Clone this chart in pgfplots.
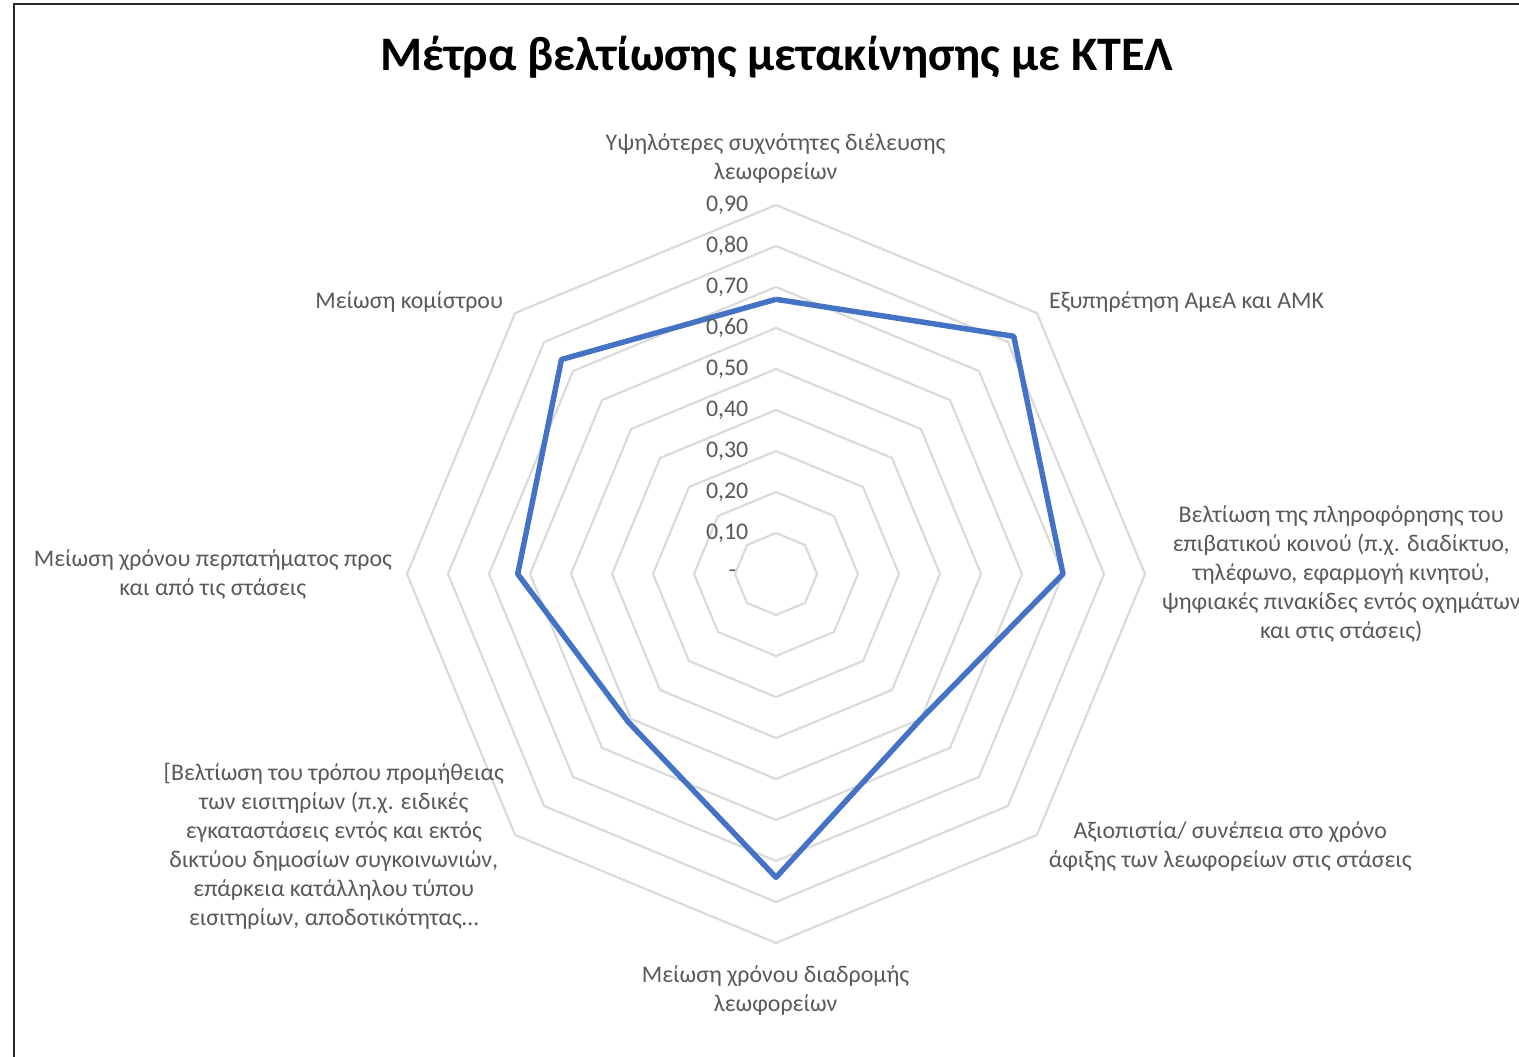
\documentclass[border=0pt]{standalone}
\usepackage{fontspec}
\setmainfont{Carlito}
\usepackage{pgfplots}
\pgfplotsset{compat=1.18}
\usepgfplotslibrary{polar}
\definecolor{xlblue}{HTML}{4472C4}
\definecolor{xlgrid}{HTML}{D9D9D9}
\definecolor{xltext}{HTML}{595959}

\begin{document}
\begin{tikzpicture}
\useasboundingbox (0,0) rectangle (15.19cm,10.56cm);
% chart frame (right and bottom edges fall outside the page)
\draw[black!85,line width=0.8pt] (0.14cm,-0.3cm) rectangle (15.5cm,10.52cm);

\begin{axis}[
  at={(7.76cm,4.82cm)}, anchor=center,
  x=4.1cm, y=4.1cm,
  xmin=-0.92, xmax=0.92, ymin=-0.92, ymax=0.92,
  hide axis, clip=false]
  % octagonal grid rings
  \pgfplotsinvokeforeach{0.1,0.2,0.3,0.4,0.5,0.6,0.7,0.8,0.9}{
    \addplot[xlgrid,line width=0.6pt,data cs=polar,forget plot]
      coordinates {(90,#1)(45,#1)(0,#1)(-45,#1)(-90,#1)(-135,#1)(180,#1)(135,#1)(90,#1)};
  }
  % series
  \addplot[xlblue,line width=1.55pt,line join=round,data cs=polar]
    coordinates {(90,0.67)(45,0.82)(0,0.70)(-45,0.50)(-90,0.74)(-135,0.51)(180,0.63)(135,0.74)(90,0.67)};
  % radial tick labels
  \pgfplotsinvokeforeach{1,2,3,4,5,6,7,8,9}{
    \node[anchor=east,inner sep=0pt,xshift=-0.27cm,text=xltext,font=\fontsize{6.8}{7.5}\selectfont]
      at (axis cs:0,0.#1) {0,#10};
  }
  \node[anchor=east,inner sep=0pt,xshift=-0.39cm,text=xltext,font=\fontsize{6.8}{7.5}\selectfont]
    at (axis cs:0,0) {-};
\end{axis}

\begin{scope}[x=0.01cm,y=0.01cm,text=xltext,
  lbl/.style={inner sep=0pt,align=center,font=\fontsize{6.8}{8.25}\selectfont}]
  \node[font=\fontsize{13.7}{16}\selectfont\bfseries,text=black,anchor=base]
    at (777,986) {Μέτρα βελτίωσης μετακίνησης με ΚΤΕΛ};
  \node[lbl] at (776,898) {Υψηλότερες συχνότητες διέλευσης\\λεωφορείων};
  \node[lbl,anchor=west] at (1049,754) {Εξυπηρέτηση ΑμεΑ και ΑΜΚ};
  \node[lbl] at (1342,482) {Βελτίωση της πληροφόρησης του\\επιβατικού κοινού (π.χ. διαδίκτυο,\\τηλέφωνο, εφαρμογή κινητού,\\ψηφιακές πινακίδες εντός οχημάτων\\και στις στάσεις)};
  \node[lbl] at (1231,210) {Αξιοπιστία/ συνέπεια στο χρόνο\\άφιξης των λεωφορείων στις στάσεις};
  \node[lbl] at (776,66) {Μείωση χρόνου διαδρομής\\λεωφορείων};
  \node[lbl] at (334,210) {[Βελτίωση του τρόπου προμήθειας\\των εισιτηρίων (π.χ. ειδικές\\εγκαταστάσεις εντός και εκτός\\δικτύου δημοσίων συγκοινωνιών,\\επάρκεια κατάλληλου τύπου\\εισιτηρίων, αποδοτικότητας…};
  \node[lbl] at (213,482) {Μείωση χρόνου περπατήματος προς\\και από τις στάσεις};
  \node[lbl,anchor=east] at (504,754) {Μείωση κομίστρου};
\end{scope}
\end{tikzpicture}
\end{document}
